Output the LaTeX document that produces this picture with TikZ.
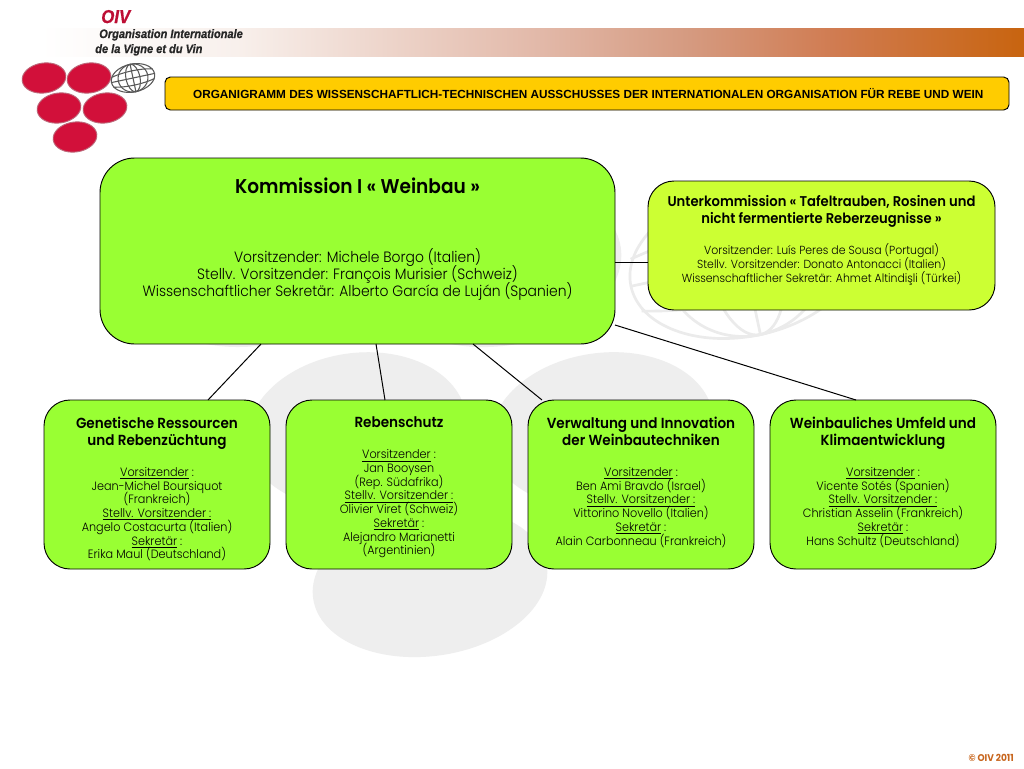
\documentclass[tikz,border=0pt]{standalone}
\usepackage{fontspec}
\setmainfont[FakeStretch=0.93,BoldFont={Poppins SemiBold}]{Poppins Light}
\newfontfamily\arialf{Liberation Sans}
\newfontfamily\footf[FakeStretch=0.93]{Poppins}
\newfontfamily\logof[FakeStretch=0.9,FakeBold=0.7]{Liberation Sans}
\usetikzlibrary{calc}
\pgfdeclarehorizontalshading{bandshade}{100bp}{rgb(0bp)=(1,1,1); rgb(25bp)=(1,1,1); rgb(35bp)=(0.973,0.941,0.925); rgb(50.5bp)=(0.886,0.722,0.659); rgb(58bp)=(0.835,0.604,0.502); rgb(65.5bp)=(0.816,0.482,0.314); rgb(75bp)=(0.784,0.392,0.059); rgb(100bp)=(0.784,0.392,0.059)}
\definecolor{boxgreen}{HTML}{99FF33}
\definecolor{subgreen}{HTML}{CCFF33}
\definecolor{titleyellow}{HTML}{FFCC00}
\definecolor{wmgray}{HTML}{EEEEEE}
\definecolor{wmline}{HTML}{EBEBEB}
\definecolor{wine}{HTML}{D2103A}
\definecolor{oivorange}{HTML}{C8661E}
\tikzset{
  x=0.75pt,y=-0.75pt,
  panel/.style={draw=black,line width=0.7pt,rounded corners=19.5pt,inner sep=0pt,outer sep=0pt,fill=boxgreen,text=black},
  subpanel/.style={panel,fill=subgreen},
  mainpanel/.style={panel,rounded corners=26pt},
  titlepanel/.style={panel,fill=titleyellow,rounded corners=4pt},
  link/.style={draw=black,line width=0.75pt},
  grape/.style={fill=wine,draw=wine!55!gray!80,line width=0.7pt},
  wm/.style={fill=wmgray,draw=none},
}
\newcommand\boxtext[4]{\parbox[c][#2pt][t]{#1pt}{\centering\lineskiplimit=-100pt\parskip=0pt\parindent=0pt\vspace*{#3pt}#4}}
\newcommand\ttlfont{\fontsize{10.95pt}{12.75pt}\selectfont\bfseries}
\newcommand\subttlfont{\fontsize{10.62pt}{12.75pt}\selectfont\bfseries}
\newcommand\bodyfont{\fontsize{9.05pt}{10.28pt}\selectfont}
\newcommand\subbodyfont{\fontsize{8.79pt}{10.28pt}\selectfont}
\newcommand\globe[4]{%
 \begin{scope}[shift={(#1,#2)},scale=#3,rotate=12,draw=#4]
  \draw (0,0) ellipse [x radius=22,y radius=14];
  \draw (0,0) ellipse [x radius=15,y radius=14];
  \draw (0,0) ellipse [x radius=7,y radius=14];
  \draw (0,-14) -- (0,14);
  \draw (-21,-5) .. controls (-8,-8) and (8,-8) .. (21,-5);
  \draw (-22,0) -- (22,0);
  \draw (-21,5) .. controls (-8,8) and (8,8) .. (21,5);
 \end{scope}}
\begin{document}
\begin{tikzpicture}
\useasboundingbox (0,0) rectangle (1024,768);
\fill[white] (0,0) rectangle (1024,768);
% watermark
\fill[wm,rotate around={8:(252,265)}] (252,265) ellipse [x radius=122,y radius=81];
\fill[wm,rotate around={8:(498,265)}] (498,265) ellipse [x radius=124,y radius=81];
\fill[wm,rotate around={8:(357,430)}] (357,430) ellipse [x radius=110,y radius=77];
\fill[wm,rotate around={8:(602,430)}] (602,430) ellipse [x radius=112,y radius=77];
\fill[wm,rotate around={8:(430,582)}] (430,582) ellipse [x radius=118,y radius=74];
\globe{745}{262}{5.3}{wmline,line width=2pt}
% banner
\fill[shading=bandshade,shading angle=0] (40,28) rectangle (1024,56);
% logo
\foreach \cx/\cy in {44/78,89/78,59/108,105/108,75/137}
  \draw[grape,rotate around={8:(\cx,\cy)}] (\cx,\cy) ellipse [x radius=22,y radius=15];
\globe{133}{78}{1}{black!65,line width=0.8pt}
\node[anchor=base west,inner sep=0pt,text=wine!90!black] (oiv) at (101,23) {\logof\fontsize{14pt}{14pt}\selectfont\bfseries\itshape OIV};
\node[anchor=base west,inner sep=0pt,text=black!85] (org1) at (99,38) {\logof\fontsize{9.2pt}{10pt}\selectfont\bfseries\itshape Organisation Internationale};
\node[anchor=base west,inner sep=0pt,text=black!85] (org2) at (95,53) {\logof\fontsize{9.2pt}{10pt}\selectfont\bfseries\itshape de la Vigne et du Vin};
% title
\node[titlepanel,minimum width=633pt,minimum height=24.75pt] (title) at (587,93.5) {\arialf\fontsize{8.83pt}{10pt}\selectfont\bfseries\hspace*{2pt}ORGANIGRAMM DES WISSENSCHAFTLICH-TECHNISCHEN AUSSCHUSSES DER INTERNATIONALEN ORGANISATION FÜR REBE UND WEIN};
% main
\node[mainpanel] (main) at (357.5,251) {\boxtext{386.25}{139.5}{14.75}{%
 {\fontsize{14.95pt}{12.75pt}\selectfont\bfseries Kommission I « Weinbau »\par}\vspace{39pt}
 {\fontsize{11.23pt}{12.75pt}\selectfont Vorsitzender: Michele Borgo (Italien)\par
 Stellv. Vorsitzender: François Murisier (Schweiz)\par
 Wissenschaftlicher Sekretär: Alberto García de Luján (Spanien)\par}}};
% subcommission
\node[subpanel] (sub) at (821.5,245.5) {\boxtext{260.25}{96.75}{11}{%
 {\subttlfont Unterkommission « Tafeltrauben, Rosinen und\par nicht fermentierte Reberzeugnisse »\par}\vspace{13pt}
 {\subbodyfont Vorsitzender: Luís Peres de Sousa (Portugal)\par
 Stellv. Vorsitzender: Donato Antonacci (Italien)\par
 Wissenschaftlicher Sekretär: Ahmet Altindişli (Türkei)\par}}};
% groups
\node[panel] (g1) at (157,484.5) {\boxtext{169.5}{126.75}{12.75}{%
 {\ttlfont Genetische Ressourcen\par und Rebenzüchtung\par}\vspace{13pt}
 {\bodyfont \underline{Vorsitzender} :\par Jean-Michel Boursiquot\par (Frankreich)\par \underline{Stellv. Vorsitzender :}\par Angelo Costacurta (Italien)\par \underline{Sekretär} :\par Erika Maul (Deutschland)\par}}};
\node[panel] (g2) at (399,484.5) {\boxtext{169.5}{126.75}{12.75}{%
 {\ttlfont Rebenschutz\par}\vspace{13pt}
 {\bodyfont \underline{Vorsitzender} :\par Jan Booysen\par (Rep. Südafrika)\par \underline{Stellv. Vorsitzender :}\par Olivier Viret (Schweiz)\par \underline{Sekretär} :\par Alejandro Marianetti\par (Argentinien)\par}}};
\node[panel] (g3) at (641,484.5) {\boxtext{169.5}{126.75}{12.75}{%
 {\ttlfont Verwaltung und Innovation\par der Weinbautechniken\par}\vspace{13pt}
 {\bodyfont \underline{Vorsitzender} :\par Ben Ami Bravdo (Israel)\par \underline{Stellv. Vorsitzender :}\par Vittorino Novello (Italien)\par \underline{Sekretär} :\par Alain Carbonneau (Frankreich)\par}}};
\node[panel] (g4) at (883,484.5) {\boxtext{169.5}{126.75}{12.75}{%
 {\ttlfont Weinbauliches Umfeld und\par Klimaentwicklung\par}\vspace{13pt}
 {\bodyfont \underline{Vorsitzender} :\par Vicente Sotés (Spanien)\par \underline{Stellv. Vorsitzender :}\par Christian Asselin (Frankreich)\par \underline{Sekretär} :\par Hans Schultz (Deutschland)\par}}};
% connectors
\draw[link] ($(main.east)+(0,11)$) -- ($(sub.west)+(0,16.5)$);
\draw[link] ($(main.south west)+(161,0)$) -- ($(g1.north west)+(164,0)$);
\draw[link] ($(main.south west)+(276,0)$) -- ($(g2.north west)+(99,0)$);
\draw[link] ($(main.south west)+(373,0)$) -- ($(g3.north west)+(14,0)$);
\draw[link] ($(main.south east)+(0,-19)$) -- ($(g4.north west)+(86,0)$);
% footer
\node[anchor=base east,inner sep=0pt,text=oivorange] (copy) at (1014,761) {\footf\fontsize{7.3pt}{8pt}\selectfont\bfseries © OIV 2011};
\end{tikzpicture}
\end{document}
